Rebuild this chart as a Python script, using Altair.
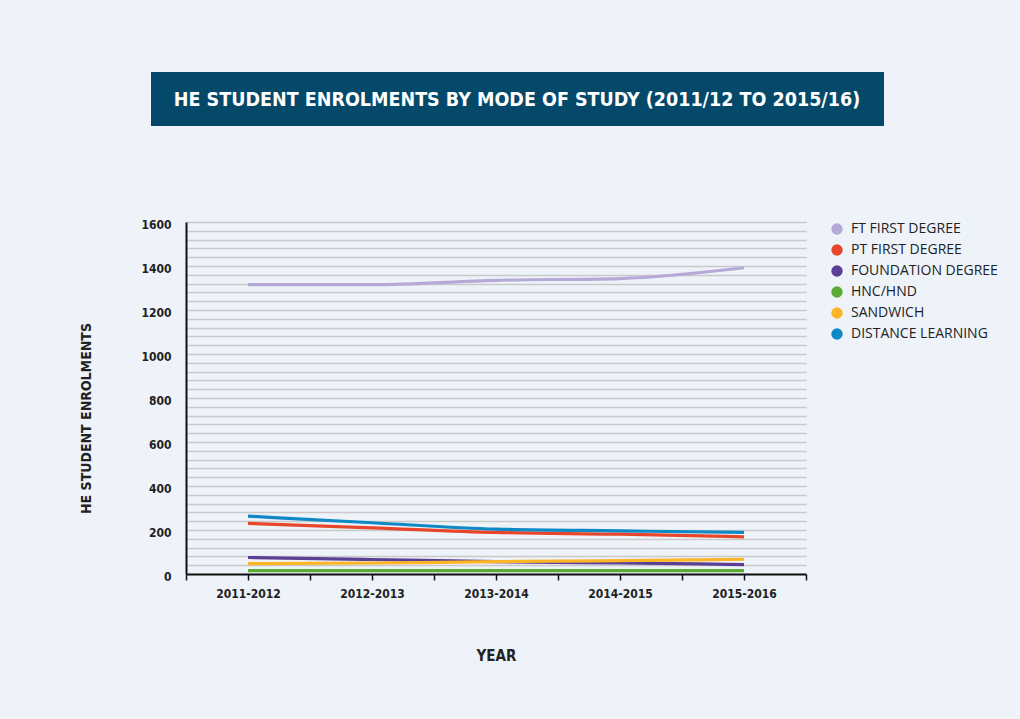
import altair as alt
import pandas as pd

title_text = "HE STUDENT ENROLMENTS BY MODE OF STUDY (2011/12 TO 2015/16)"
years = ["2011-2012", "2012-2013", "2013-2014", "2014-2015", "2015-2016"]
series = ["FT FIRST DEGREE", "PT FIRST DEGREE", "FOUNDATION DEGREE",
          "HNC/HND", "SANDWICH", "DISTANCE LEARNING"]
colors = ["#b5a9d8", "#e8462b", "#5a3f94", "#5bab33", "#fbb526", "#0f88c6"]

ft_first = [1315, 1315, 1335, 1343, 1392]
pt_first = [230, 210, 189, 181, 169]
foundation = [75, 66, 56, 50, 43]
hnc_hnd = [15, 15, 15, 15, 15]
sandwich = [47, 50, 56, 61, 67]
distance = [263, 233, 204, 196, 189]

all_vals = [ft_first, pt_first, foundation, hnc_hnd, sandwich, distance]
rows = []
for k, (s, vals) in enumerate(zip(series, all_vals)):
    for i, (yr, v) in enumerate(zip(years, vals)):
        rows.append({"series": s, "year": yr, "idx": i, "value": v, "order": k})
df = pd.DataFrame(rows)

cond = "'DejaVu Sans Condensed', 'Roboto', sans-serif"
label_expr = "[" + ",".join("'%s'" % y for y in years) + "][datum.value] || ''"

x_enc = alt.X(
    "idx:Q",
    scale=alt.Scale(domain=[-0.5, 4.5], nice=False, zero=False),
    axis=alt.Axis(
        values=[i / 2 for i in range(-1, 10)],
        labelExpr=label_expr, labelOverlap=False, labelFlush=False,
        title="YEAR", grid=False,
        domainColor="#111111", domainWidth=2,
        tickColor="#111111", tickSize=6, tickWidth=1.5,
        labelFont=cond, labelFontSize=12, labelFontWeight="bold", labelColor="#222222",
        labelPadding=8,
        titleFont=cond, titleFontSize=15, titleFontWeight="bold", titleColor="#222222",
        titleX=310, titleY=81, titleBaseline="middle", titleAlign="center",
    ),
)
y_enc = alt.Y(
    "value:Q",
    scale=alt.Scale(domain=[0, 1600], nice=False),
    axis=alt.Axis(
        values=list(range(0, 1601, 40)), format="d",
        labelExpr="datum.value % 200 === 0 ? datum.label : ''",
        labelOverlap=False,
        grid=True, gridColor="#c9c9c9", gridWidth=1.5,
        domainColor="#111111", domainWidth=2, ticks=False,
        labelFont=cond, labelFontSize=12, labelFontWeight="bold", labelColor="#222222",
        labelPadding=15, labelOffset=2,
        title="HE STUDENT ENROLMENTS",
        titleFont=cond, titleFontSize=14, titleFontWeight="bold", titleColor="#222222",
        titleX=-100, titleY=196, titleAngle=-90, titleAlign="center", titleBaseline="middle",
    ),
)

color_scale = alt.Scale(domain=series, range=colors)

legend_layer = alt.Chart(df).transform_filter("false").mark_point(filled=True, opacity=1).encode(
    x=x_enc, y=y_enc,
    color=alt.Color(
        "series:N", scale=color_scale, sort=series,
        legend=alt.Legend(
            orient="none", legendX=644, legendY=0, title=None,
            symbolType="circle", symbolSize=130, symbolStrokeWidth=0, symbolOpacity=1,
            labelFont="Open Sans", labelFontSize=14, labelColor="#222222",
            rowPadding=7, labelOffset=7,
        ),
    ),
)

lines = alt.Chart(df).mark_line(strokeWidth=3.2, interpolate="monotone").encode(
    x=x_enc, y=y_enc,
    color=alt.Color("series:N", scale=color_scale, sort=series, legend=None),
    order="order:Q",
    detail="series:N",
)

tdf = pd.DataFrame({"t": [title_text]})
banner = alt.Chart(tdf).mark_rect(color="#04496a").encode(
    x=alt.value(-35), x2=alt.value(698), y=alt.value(-150), y2=alt.value(-96)
)
banner_text = alt.Chart(tdf).mark_text(
    font=cond, fontSize=19.5, fontWeight="bold", color="white",
    align="center", baseline="middle"
).encode(x=alt.value(331), y=alt.value(-122), text="t:N")

chart = alt.layer(legend_layer, lines, banner, banner_text).properties(
    width=620, height=352,
    autosize=alt.AutoSizeParams(type="none"),
    padding={"left": 186, "top": 222, "right": 214, "bottom": 145},
    background="#eef3fa",
).configure_view(stroke=None)

chart.save("out.html", embed_options={"renderer": "svg", "actions": False})
